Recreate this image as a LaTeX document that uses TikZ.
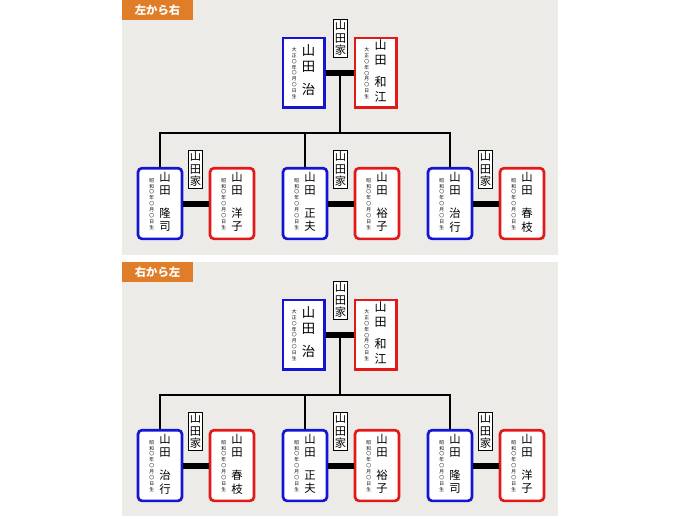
\documentclass[tikz,border=0pt]{standalone}
\usepackage{fontspec}
\setmainfont{Noto Sans CJK JP}
\usetikzlibrary{positioning}

\definecolor{panelbg}{RGB}{236,235,231}
\definecolor{tagorange}{RGB}{224,125,40}
\definecolor{husband}{RGB}{20,20,210}
\definecolor{wife}{RGB}{225,25,25}

\newcommand{\vstack}[1]{\begin{tabular}[c]{@{}c@{}}#1\end{tabular}}
\newcommand{\datecol}[1]{{\fontsize{3.6}{4.4}\selectfont\vstack{#1\\〇\\年\\〇\\月\\〇\\日\\生}}}
\newcommand{\kid}[2]{\datecol{昭\\和}\hspace{4pt}{\fontsize{8.5}{10}\selectfont\vstack{山\\田\\[7pt]#1\\#2}}}

\tikzset{
  parentbox/.style={draw, line width=2pt, fill=white, minimum width=31pt, minimum height=52pt, inner sep=0pt},
  kidbox/.style={parentbox, rounded corners=3pt, minimum width=33pt, minimum height=53pt},
  housetag/.style={draw, thin, fill=white, inner sep=1pt, font=\fontsize{8.5}{9.5}\selectfont, align=center},
  marriage/.style={line width=4.5pt},
  line/.style={line width=1.2pt},
  titletag/.style={fill=tagorange, text=white, font=\bfseries\fontsize{8.5}{10}\selectfont, minimum width=53pt, minimum height=15pt, inner sep=0pt}
}

% one family panel: title, first, third child pair
\newcommand{\familytree}[5]{
  \fill[panelbg] (122,0) rectangle (558,255);
  \node[titletag] (title) at (157.5,10) {#1};

  \node[housetag] (house) at (340.5,38) {山\\田\\家};
  \node[parentbox,draw=husband] (father) at (303.5,72.5)
    {\datecol{大\\正}\hspace{4pt}{\fontsize{10}{11.5}\selectfont\vstack{山\\田\\[6pt]治}}};
  \node[parentbox,draw=wife] (mother) at (375.5,72.5)
    {\datecol{大\\正}\hspace{4pt}{\fontsize{9}{11}\selectfont\vstack{山\\田\\[6pt]和\\江}}};

  \node[housetag] (houseA) at (195.5,169) {山\\田\\家};
  \node[housetag] (houseB) at (340.5,169) {山\\田\\家};
  \node[housetag] (houseC) at (485.5,169) {山\\田\\家};

  \node[kidbox,draw=husband] (sonA) at (160,203.5) {#2};
  \node[kidbox,draw=wife] (wifeA) at (232,203.5) {#3};
  \node[kidbox,draw=husband] (sonB) at (305,203.5) {\kid{正}{夫}};
  \node[kidbox,draw=wife] (wifeB) at (377,203.5) {\kid{裕}{子}};
  \node[kidbox,draw=husband] (sonC) at (450,203.5) {#4};
  \node[kidbox,draw=wife] (wifeC) at (522,203.5) {#5};

  \coordinate (couple) at (340,73);
  \coordinate (hub) at (340,133);

  \draw[marriage] (father.east) -- (mother.west);
  \draw[marriage] (sonA.east) -- (wifeA.west);
  \draw[marriage] (sonB.east) -- (wifeB.west);
  \draw[marriage] (sonC.east) -- (wifeC.west);

  \draw[line] (couple) -- (hub);
  \draw[line] (sonA.north) |- (hub) -| (sonC.north);
  \draw[line] (hub) -| (sonB.north);
}

\begin{document}
\begin{tikzpicture}[x=0.75pt,y=-0.75pt]
  \useasboundingbox (0,0) rectangle (680,515);

  \begin{scope}[name prefix=top-]
    \familytree{左から右}{\kid{隆}{司}}{\kid{洋}{子}}{\kid{治}{行}}{\kid{春}{枝}}
  \end{scope}

  \begin{scope}[yshift=-196.5pt, name prefix=bottom-]
    \familytree{右から左}{\kid{治}{行}}{\kid{春}{枝}}{\kid{隆}{司}}{\kid{洋}{子}}
  \end{scope}
\end{tikzpicture}
\end{document}
